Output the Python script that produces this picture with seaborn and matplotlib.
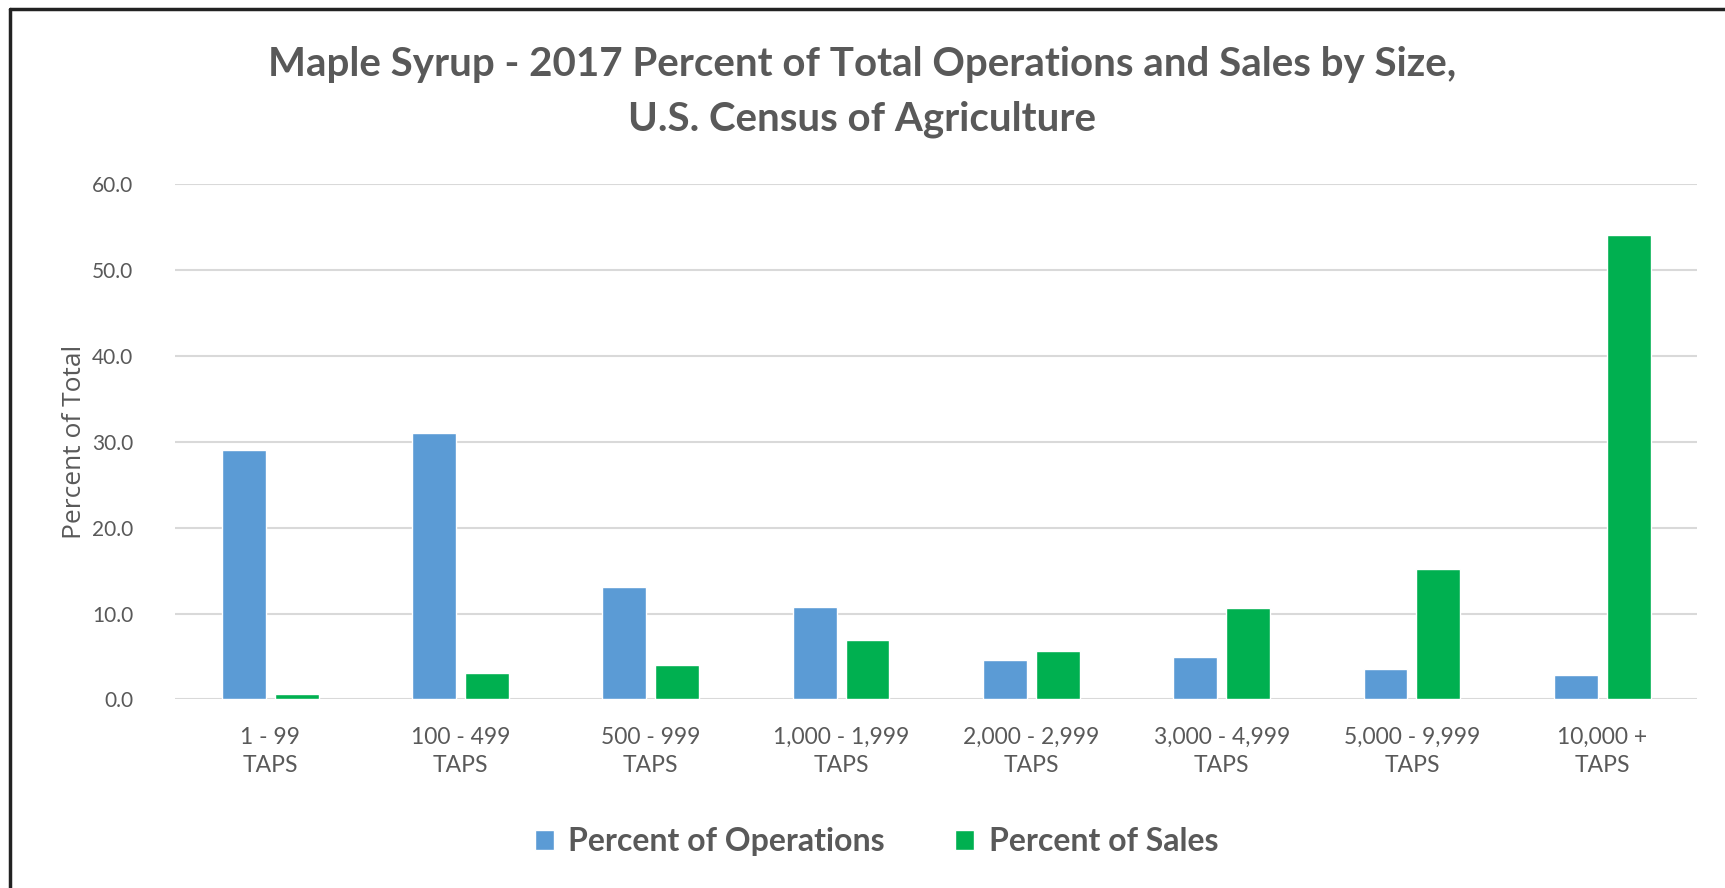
import pandas as pd
import numpy as np
import seaborn as sns
import matplotlib.pyplot as plt
from matplotlib.lines import Line2D
from matplotlib.patches import Patch

# Data
sizes = ["1 - 99\nTAPS", "100 - 499\nTAPS", "500 - 999\nTAPS", "1,000 - 1,999\nTAPS",
         "2,000 - 2,999\nTAPS", "3,000 - 4,999\nTAPS", "5,000 - 9,999\nTAPS", "10,000 +\nTAPS"]
pct_operations = [29.0, 31.0, 13.1, 10.8, 4.6, 4.9, 3.5, 2.9]
pct_sales = [0.6, 3.1, 4.0, 6.9, 5.7, 10.6, 15.2, 54.1]
series = ["Percent of Operations", "Percent of Sales"]
colors = ["#5B9BD5", "#00B050"]

df = pd.DataFrame({
    "size": sizes * 2,
    "value": pct_operations + pct_sales,
    "series": [series[0]] * len(sizes) + [series[1]] * len(sizes),
})

sns.set_theme(style="white")
plt.rcParams['font.family'] = ['Lato', 'DejaVu Sans']
grey = "#595959"

fig = plt.figure(figsize=(17.25, 8.88), dpi=100)
ax = fig.add_axes([0.1015, 0.2123, 0.8825, 0.5805])

sns.barplot(data=df, x="size", y="value", hue="series", order=sizes,
            hue_order=series, palette=colors, saturation=1,
            width=0.555, gap=0.17, legend=False, ax=ax)

ax.set_ylim(0, 60)
ax.set_xlim(-0.5, len(sizes) - 0.5)
ax.set_yticks(np.arange(0, 61, 10))
ax.set_yticklabels([f"{v:.1f}" for v in np.arange(0, 61, 10)])
ax.yaxis.grid(True, color="#D9D9D9", linewidth=1.5)
ax.set_axisbelow(True)
for s in ax.spines.values():
    s.set_visible(False)
ax.tick_params(axis="both", length=0, colors=grey)
ax.tick_params(axis="y", pad=30, labelsize=15)
ax.tick_params(axis="x", pad=20, labelsize=16.5)
for lab in ax.get_xticklabels():
    lab.set_linespacing(1.4)

ax.set_xlabel("")
ax.set_ylabel("Percent of Total", fontsize=19, color=grey, labelpad=4,
              family=['Open Sans', 'DejaVu Sans'])

fig.text(0.5, 0.927, "Maple Syrup - 2017 Percent of Total Operations and Sales by Size,",
         ha="center", va="center", fontsize=29, fontweight="bold", color=grey)
fig.text(0.5, 0.866, "U.S. Census of Agriculture",
         ha="center", va="center", fontsize=29, fontweight="bold", color=grey)

handles = [Patch(facecolor=c, label=l) for c, l in zip(colors, series)]
leg = fig.legend(handles=handles, loc="center", bbox_to_anchor=(0.508, 0.052), ncol=2,
                 frameon=False, handlelength=0.6, handleheight=0.6,
                 columnspacing=2.2, handletextpad=0.45,
                 prop={"size": 23, "weight": "bold"})
for t in leg.get_texts():
    t.set_color(grey)

# chart frame (top and left edges visible)
fig.add_artist(Line2D([0.006, 0.006], [0.0, 0.99], color="#222222", lw=2.5,
                      transform=fig.transFigure))
fig.add_artist(Line2D([0.006, 1.0], [0.99, 0.99], color="#222222", lw=2.5,
                      transform=fig.transFigure))

fig.savefig("out.png", dpi=100)
